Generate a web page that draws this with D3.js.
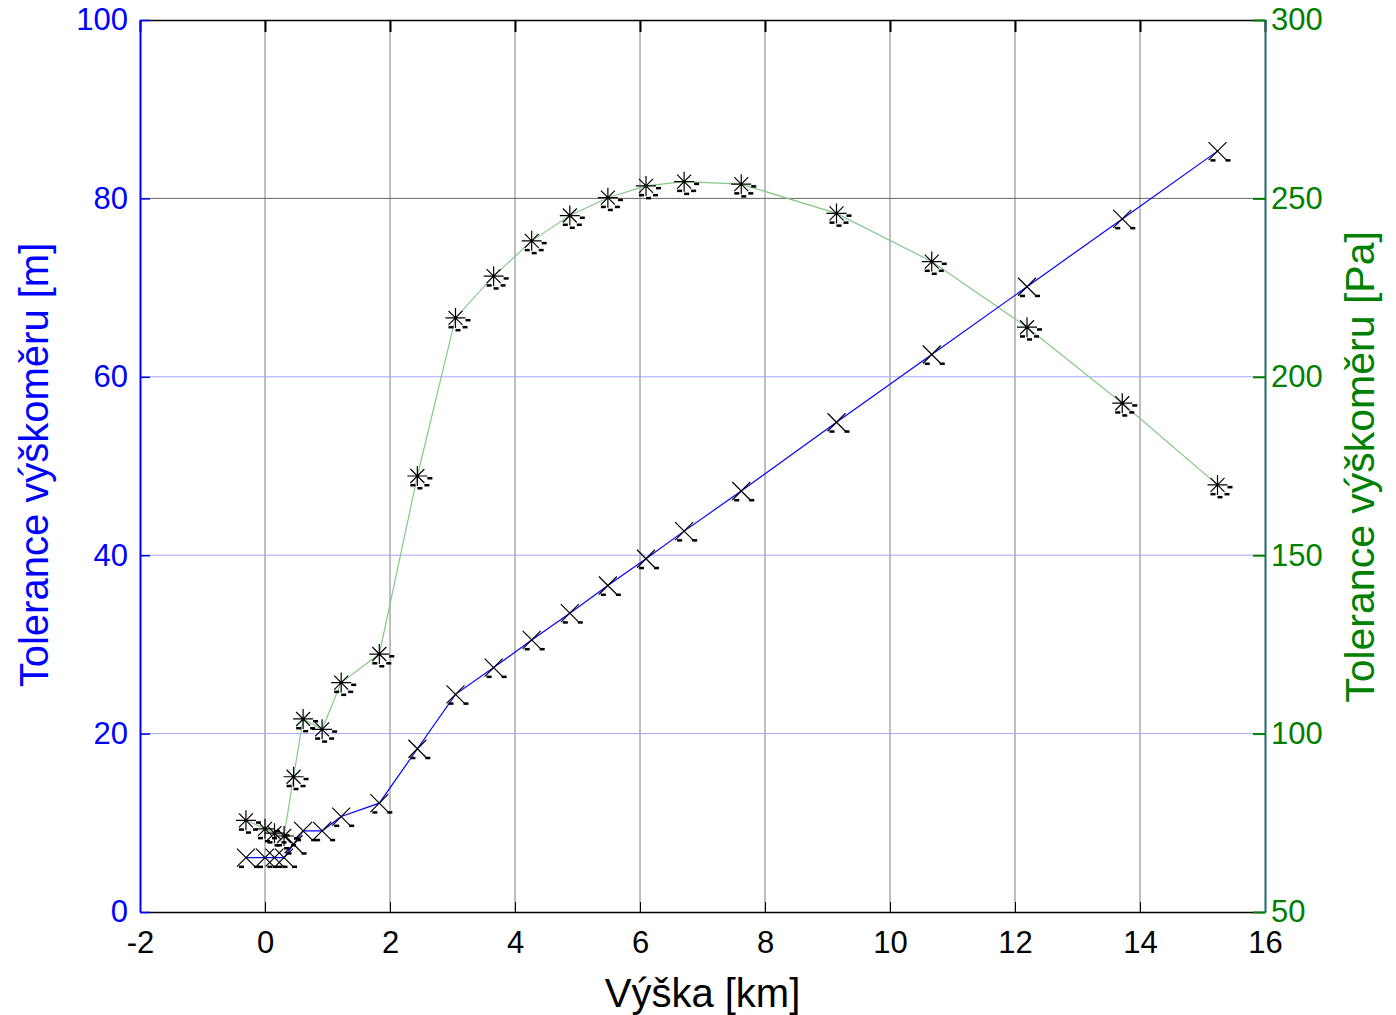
<!DOCTYPE html>
<html>
<head>
<meta charset="utf-8">
<script src="https://cdn.jsdelivr.net/npm/d3@7"></script>
<style>
  body { margin: 0; background: #fff; }
  text { font-family: "Liberation Sans", Arial, sans-serif; }
</style>
</head>
<body>
<script>
// altitude [km] and the two tolerance series
const altitudeKm = [-0.305, 0, 0.152, 0.305, 0.457, 0.61, 0.914, 1.219, 1.829, 2.438, 3.048, 3.658,
  4.267, 4.877, 5.486, 6.096, 6.706, 7.62, 9.144, 10.668, 12.192, 13.716, 15.24];
const toleranceM = [6.1, 6.1, 6.1, 6.1, 7.6, 9.1, 9.1, 10.7, 12.2, 18.3, 24.4, 27.4,
  30.5, 33.5, 36.6, 39.6, 42.7, 47.2, 54.9, 62.5, 70.1, 77.7, 85.3];
const tolerancePa = [75.7, 73.3, 72.1, 71.3, 87.9, 104.1, 101.2, 114.3, 122.3, 172.2, 216.5, 228.2,
  238.1, 245.2, 250.2, 253.5, 254.7, 254.0, 245.8, 232.3, 213.9, 192.6, 169.7];

const xTicks = [-2, 0, 2, 4, 6, 8, 10, 12, 14, 16];
const leftTicks = [0, 20, 40, 60, 80, 100];
const rightTicks = [50, 100, 150, 200, 250, 300];

const margin = {top: 20, right: 131, bottom: 103, left: 140},
    width = 1396 - margin.left - margin.right,
    height = 1015 - margin.top - margin.bottom;

const blue = "#0000ff", green = "#008000";
const fmt = d => String(d);

const svg = d3.select("body")
  .append("svg")
  .attr("width", 1396)
  .attr("height", 1015)
  .append("g")
  .attr("transform", `translate(${margin.left},${margin.top})`);

const x = d3.scaleLinear().domain([-2, 16]).range([0, width]);
const yL = d3.scaleLinear().domain([0, 100]).range([height, 0]);
const yR = d3.scaleLinear().domain([50, 300]).range([height, 0]);

// grid
svg.append("g")
  .selectAll("line")
  .data(xTicks.slice(1, -1))
  .enter().append("line")
  .attr("x1", d => x(d)).attr("x2", d => x(d))
  .attr("y1", 0).attr("y2", height)
  .attr("stroke", "#7f7f7f").attr("stroke-width", 1);

svg.append("g")
  .selectAll("line")
  .data(leftTicks.slice(1, -1))
  .enter().append("line")
  .attr("x1", 0).attr("x2", width)
  .attr("y1", d => yL(d)).attr("y2", d => yL(d))
  .attr("stroke", d => d === 80 ? "#666666" : "#a6a6ff").attr("stroke-width", 1);

// axes
const xBottom = svg.append("g")
  .attr("transform", `translate(0,${height})`)
  .call(d3.axisBottom(x).tickValues(xTicks).tickFormat(fmt).tickSizeInner(-10).tickSizeOuter(0).tickPadding(19));
xBottom.select(".domain").attr("stroke", "#000").attr("stroke-width", 1.5);
xBottom.selectAll("text").attr("font-size", 31).attr("fill", "#000");

const xTop = svg.append("g")
  .call(d3.axisTop(x).tickValues(xTicks).tickSizeInner(-12).tickSizeOuter(0).tickFormat(""));
xTop.select(".domain").attr("stroke", "#000").attr("stroke-width", 1.5);
xTop.selectAll(".tick line").attr("stroke-width", 2);

const yLeft = svg.append("g")
  .call(d3.axisLeft(yL).tickValues(leftTicks).tickFormat(fmt).tickSizeInner(-10).tickSizeOuter(0).tickPadding(12));
yLeft.select(".domain").attr("stroke", blue).attr("stroke-width", 2);
yLeft.selectAll(".tick line").attr("stroke", blue).attr("stroke-width", 1.5);
yLeft.selectAll("text").attr("font-size", 31).attr("fill", blue);

const yRight = svg.append("g")
  .attr("transform", `translate(${width},0)`)
  .call(d3.axisRight(yR).tickValues(rightTicks).tickFormat(fmt).tickSizeInner(-12).tickSizeOuter(0).tickPadding(6));
yRight.select(".domain").attr("stroke", "#1a6a6a").attr("stroke-width", 2);
yRight.selectAll(".tick line").attr("stroke", green).attr("stroke-width", 2);
yRight.selectAll("text").attr("font-size", 31).attr("fill", green);

// axis titles
svg.append("text")
  .attr("x", x(7)).attr("y", height + 95)
  .attr("text-anchor", "middle")
  .attr("font-size", 40)
  .attr("fill", "#000")
  .text("Výška [km]");

svg.append("text")
  .attr("transform", `translate(${-92},${height / 2 - 1}) rotate(-90)`)
  .attr("text-anchor", "middle")
  .attr("font-size", 40)
  .attr("fill", blue)
  .text("Tolerance výškoměru [m]");

svg.append("text")
  .attr("transform", `translate(${width + 109},${height / 2 + 1}) rotate(-90)`)
  .attr("text-anchor", "middle")
  .attr("font-size", 41)
  .attr("fill", green)
  .text("Tolerance výškoměru [Pa]");

// lines
const idx = d3.range(altitudeKm.length);

svg.append("path")
  .datum(idx)
  .attr("fill", "none")
  .attr("stroke", "#86c986")
  .attr("stroke-width", 1.2)
  .attr("d", d3.line().x(i => x(altitudeKm[i])).y(i => yR(tolerancePa[i])));

svg.append("path")
  .datum(idx)
  .attr("fill", "none")
  .attr("stroke", blue)
  .attr("stroke-width", 1.2)
  .attr("d", d3.line().x(i => x(altitudeKm[i])).y(i => yL(toleranceM[i])));

// markers
const xMarks = svg.append("g").selectAll("g")
  .data(idx)
  .enter().append("g")
  .attr("transform", i => `translate(${x(altitudeKm[i])},${yL(toleranceM[i])})`);
xMarks.append("path")
  .attr("d", "M-9,-9L9,9M-9,9L9,-9")
  .attr("stroke", "#000").attr("stroke-width", 1.2);
[[-7, 8], [8, 8]].forEach(([dx, dy]) => {
  xMarks.append("rect").attr("x", dx).attr("y", dy).attr("width", 5).attr("height", 2.5).attr("fill", "#000");
});

const starMarks = svg.append("g").selectAll("g")
  .data(idx)
  .enter().append("g")
  .attr("transform", i => `translate(${x(altitudeKm[i])},${yR(tolerancePa[i])})`);
starMarks.append("path")
  .attr("d", "M-10,0L10,0M0,-10L0,10M-7,-7L7,7M-7,7L7,-7")
  .attr("stroke", "#000").attr("stroke-width", 1.2);
[[-7, 8], [0, 11], [7, 8], [10, 1]].forEach(([dx, dy]) => {
  starMarks.append("rect").attr("x", dx).attr("y", dy).attr("width", 5).attr("height", 2.5).attr("fill", "#000");
});
</script>
</body>
</html>
